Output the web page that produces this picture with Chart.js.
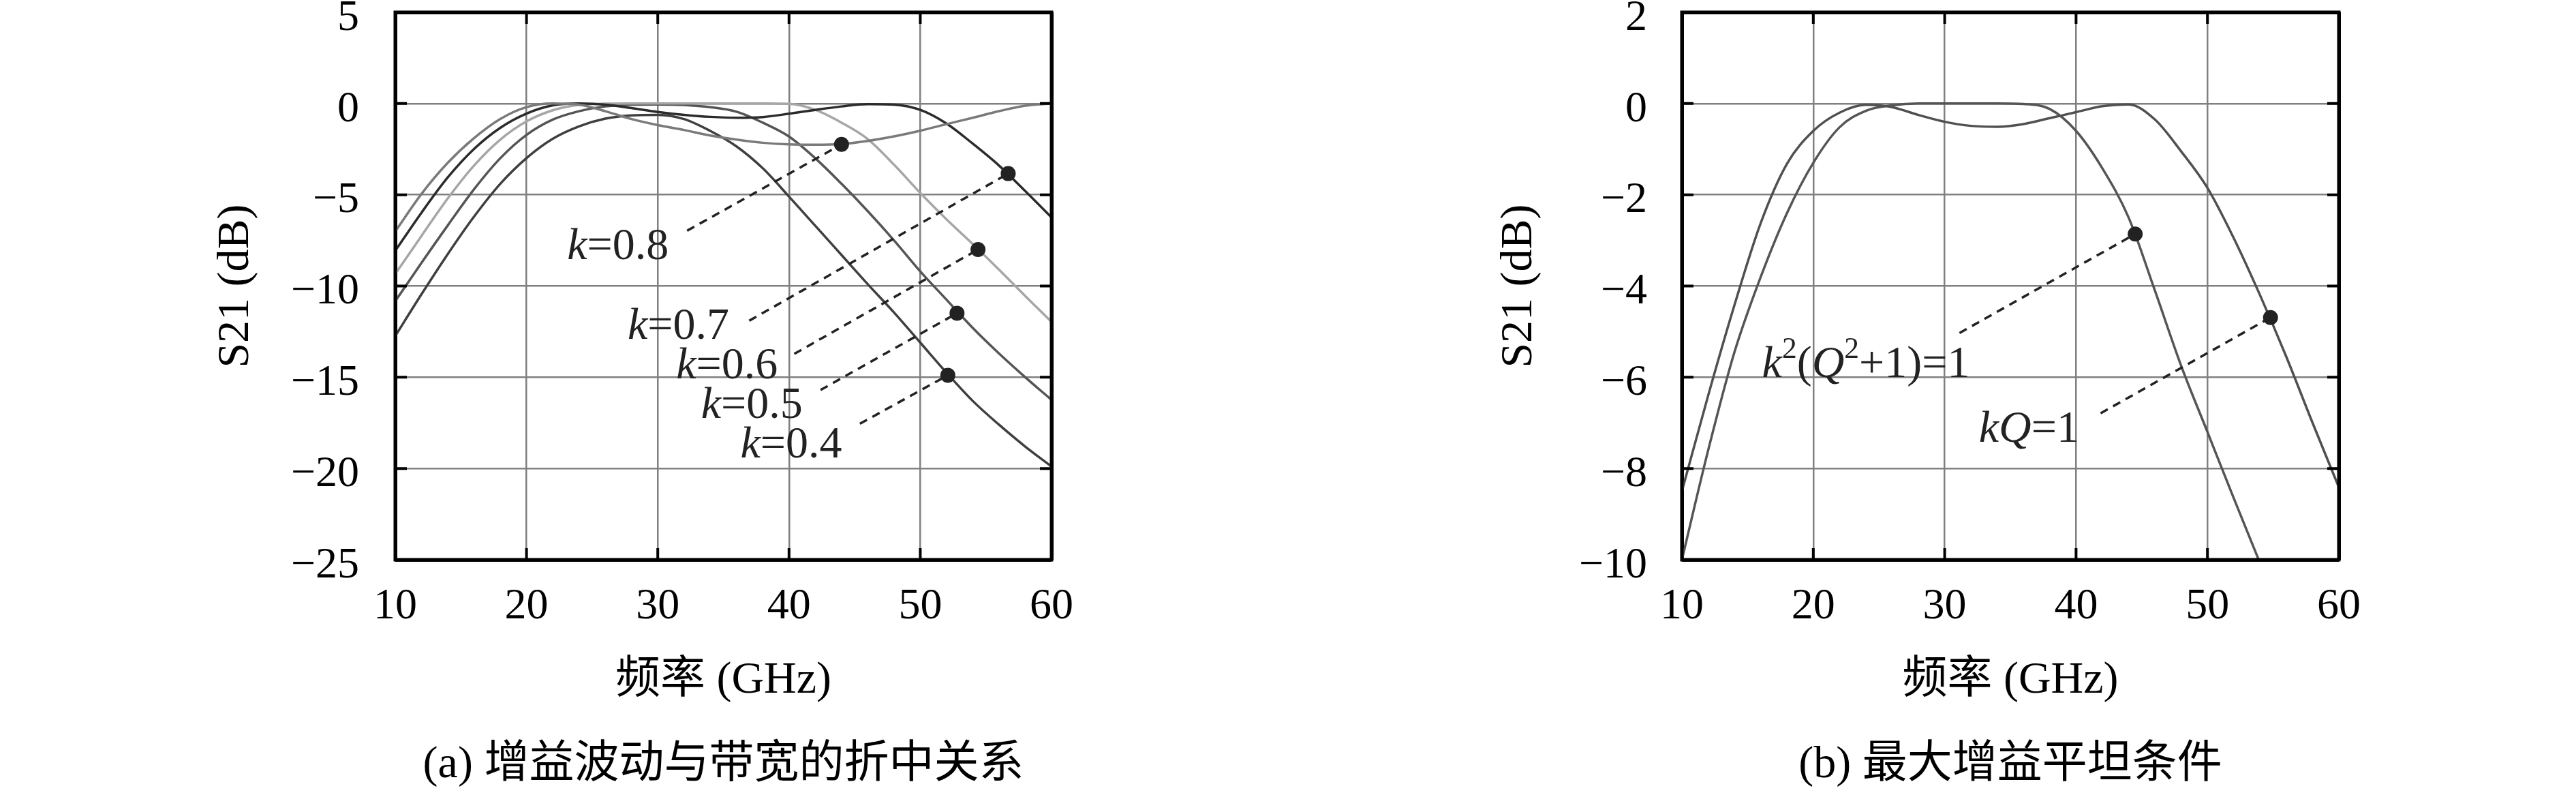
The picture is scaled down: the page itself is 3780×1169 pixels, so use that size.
<!DOCTYPE html>
<html>
<head>
<meta charset="utf-8">
<script src="https://cdn.jsdelivr.net/npm/chart.js@4.4.1/dist/chart.umd.min.js"></script>
<style>
  html, body { margin: 0; padding: 0; background: #fff; }
  body { width: 3780px; height: 1169px; position: relative; overflow: hidden; }
  canvas { position: absolute; top: 0; }
  #chartA { left: 0; }
  #chartB { left: 1890px; }
</style>
</head>
<body>
<canvas id="chartA" width="1890" height="1169"></canvas>
<canvas id="chartB" width="1890" height="1169"></canvas>
<script>
// frequency points (GHz), shared by both panels
const freq = [10, 12, 14, 16, 18, 20, 22, 24, 26, 28, 30, 32, 34, 36, 38, 40, 42, 44, 46, 48, 50, 52, 54, 56, 58, 60];

// panel (a): S21 (dB) for each coupling coefficient k
const s21k08 = [-7.01, -4.95, -3.25, -1.9, -0.85, -0.2, 0, -0.06, -0.42, -0.85, -1.18, -1.45, -1.75, -1.98, -2.15, -2.24, -2.26, -2.22, -2.05, -1.8, -1.49, -1.13, -0.78, -0.42, -0.12, 0];
const s21k07 = [-8.07, -5.98, -4.05, -2.49, -1.33, -0.55, -0.1, 0, -0.06, -0.25, -0.46, -0.62, -0.73, -0.78, -0.74, -0.56, -0.35, -0.16, -0.03, -0.06, -0.35, -1.1, -2.2, -3.4, -4.8, -6.24];
const s21k06 = [-9.34, -7.25, -5.2, -3.4, -1.98, -0.98, -0.37, -0.07, -0.01, 0, 0, 0, 0, 0, 0, -0.02, -0.35, -1.05, -1.95, -3.35, -4.9, -6.35, -7.7, -9.1, -10.55, -11.96];
const s21k05 = [-10.83, -8.73, -6.68, -4.7, -3.0, -1.72, -0.88, -0.42, -0.16, -0.06, -0.05, -0.08, -0.2, -0.45, -1.05, -1.81, -3.0, -4.4, -5.9, -7.5, -9.2, -10.75, -12.3, -13.7, -15.0, -16.24];
const s21k04 = [-12.74, -10.45, -8.25, -6.2, -4.4, -2.99, -1.93, -1.25, -0.83, -0.65, -0.62, -0.85, -1.5, -2.35, -3.55, -5.1, -6.7, -8.3, -9.9, -11.45, -13.1, -14.75, -16.3, -17.6, -18.8, -19.89];
const kValues = [0.8, 0.7, 0.6, 0.5, 0.4];
const curveColorsA = ['#7a7a7a', '#2b2b2b', '#a6a6a6', '#555555', '#3f3f3f'];

// panel (a): dots, label anchors and leader ends
const dotFreqA = [44.0, 56.7, 54.4, 52.8, 52.1];
const dotDbA = [-2.24, -3.84, -8.0, -11.49, -14.89];
const labelFreqA = [23.1, 27.7, 31.4, 33.3, 36.3];
const labelDbA = [-7.72, -12.1, -14.26, -16.4, -18.6];
const leaderFreqA = [32.24, 36.97, 40.4, 42.4, 45.4];
const leaderDbA = [-6.97, -11.9, -13.72, -15.7, -17.55];

// panel (b): kQ=1 (ripple) and k^2(Q^2+1)=1 (flat)
const s21Ripple = [-8.5, -6.4, -4.42, -2.62, -1.32, -0.6, -0.2, -0.03, -0.08, -0.25, -0.4, -0.49, -0.51, -0.45, -0.32, -0.19, -0.06, -0.02, -0.35, -1.05, -1.85, -2.95, -4.2, -5.55, -7.0, -8.41];
const freqFlat = [10, 12, 14, 16, 18, 20, 22, 24, 26, 28, 30, 32, 34, 36, 38, 40, 42, 44, 46, 48, 50, 52, 54];
const s21Flat = [-10, -7.6, -5.45, -3.8, -2.4, -1.3, -0.52, -0.16, -0.04, 0, 0, 0, 0, -0.01, -0.12, -0.6, -1.42, -2.5, -4.1, -5.75, -7.2, -8.65, -10.07];
const dotFreqB = [44.5, 54.8];
const dotDbB = [-2.86, -4.69];
const labelFreqB = [16.1, 32.6];
const labelDbB = [-5.67, -7.09];
const leaderFreqB = [31.13, 41.87];
const leaderDbB = [-5.03, -6.79];

// ticks
const xTicks = [10, 20, 30, 40, 50, 60];
const yTicksA = [-25, -20, -15, -10, -5, 0, 5];
const yTicksB = [-10, -8, -6, -4, -2, 0, 2];

const serif = "'Liberation Serif', 'Noto Sans CJK SC', serif";
Chart.defaults.font.family = serif;
Chart.defaults.color = '#000';

function minus(v) {
    return v < 0 ? '\u2212' + Math.abs(v) : String(v);
}

function pts(xs, ys) {
    return ys.map((y, i) => ({ x: xs[i], y: y }));
}

// small inward ticks on the frame, and the k= labels
const decorPlugin = {
    id: 'decor',
    afterDatasetsDraw(chart, args, opts) {
        const { ctx, chartArea: a, scales: { x, y } } = chart;
        ctx.save();
        ctx.strokeStyle = '#000';
        ctx.lineWidth = 4;
        ctx.beginPath();
        x.ticks.forEach(t => {
            if (t.value === x.min || t.value === x.max) return;
            const px = x.getPixelForValue(t.value);
            ctx.moveTo(px, a.top); ctx.lineTo(px, a.top + 17);
            ctx.moveTo(px, a.bottom); ctx.lineTo(px, a.bottom - 17);
        });
        y.ticks.forEach(t => {
            if (t.value === y.min || t.value === y.max) return;
            const py = y.getPixelForValue(t.value);
            ctx.moveTo(a.left, py); ctx.lineTo(a.left + 17, py);
            ctx.moveTo(a.right, py); ctx.lineTo(a.right - 17, py);
        });
        ctx.stroke();

        // frame
        ctx.lineWidth = 5;
        ctx.strokeRect(a.left, a.top, a.right - a.left, a.bottom - a.top);

        ctx.fillStyle = '#222';
        ctx.textBaseline = 'alphabetic';
        ctx.textAlign = 'left';
        const size = 66;
        (opts.labels || []).forEach(l => {
            let px = x.getPixelForValue(l.x);
            const base = y.getPixelForValue(l.y) + size * 0.33;
            l.runs.forEach(r => {
                const fs = r.sup ? size * 0.66 : size;
                ctx.font = (r.it ? 'italic ' : '') + fs + 'px ' + serif;
                ctx.fillText(r.t, px, r.sup ? base - size * 0.42 : base);
                px += ctx.measureText(r.t).width;
            });
        });
        ctx.restore();
    }
};

function buildChart(id, cfg) {
    const edge = (c, lo, hi) => c.tick && (c.tick.value === lo || c.tick.value === hi);
    return new Chart(document.getElementById(id), {
        type: 'line',
        data: { datasets: cfg.datasets },
        plugins: [decorPlugin],
        options: {
            responsive: false,
            animation: false,
            devicePixelRatio: 1,
            layout: { padding: { left: 0, right: cfg.padRight, top: 18, bottom: 6.8 } },
            elements: { point: { radius: 0 } },
            plugins: {
                legend: { display: false },
                tooltip: { enabled: false },
                title: {
                    display: true,
                    position: 'bottom',
                    fullSize: false,
                    text: cfg.caption,
                    color: '#000',
                    font: { size: 66, weight: 'normal' },
                    padding: { top: 32, bottom: 0 }
                },
                decor: { labels: cfg.labels }
            },
            scales: {
                x: {
                    type: 'linear',
                    min: 10,
                    max: 60,
                    afterBuildTicks: s => { s.ticks = xTicks.map(v => ({ value: v })); },
                    afterFit: s => { s.height = 230; s.paddingLeft = 0; s.paddingRight = 0; },
                    ticks: { padding: 31, font: { size: 64 }, maxRotation: 0, autoSkip: false, color: '#000' },
                    grid: {
                        drawTicks: false,
                        color: c => edge(c, 10, 60) ? '#000' : '#808080',
                        lineWidth: c => edge(c, 10, 60) ? 5 : 2.5
                    },
                    border: { display: false },
                    title: { display: true, text: '频率 (GHz)', color: '#000', font: { size: 66 }, padding: { top: 0, bottom: 13 } }
                },
                y: {
                    type: 'linear',
                    min: cfg.yTicks[0],
                    max: cfg.yTicks[cfg.yTicks.length - 1],
                    afterBuildTicks: s => { s.ticks = cfg.yTicks.map(v => ({ value: v })); },
                    afterFit: s => { s.width = cfg.yWidth; s.paddingTop = 0; s.paddingBottom = 0; },
                    ticks: { padding: cfg.tickPad, labelOffset: 9, font: { size: 64 }, color: '#000', callback: v => minus(v) },
                    grid: {
                        drawTicks: false,
                        color: c => edge(c, cfg.yTicks[0], cfg.yTicks[cfg.yTicks.length - 1]) ? '#000' : '#808080',
                        lineWidth: c => edge(c, cfg.yTicks[0], cfg.yTicks[cfg.yTicks.length - 1]) ? 5 : 2.5
                    },
                    border: { display: false },
                    title: { display: true, text: 'S21 (dB)', color: '#000', font: { size: 66 }, padding: { top: cfg.titlePad, bottom: 0 } }
                }
            }
        }
    });
}

function curve(data, color) {
    return { data: data, borderColor: color, borderWidth: 3.5, cubicInterpolationMode: 'monotone', pointRadius: 0, fill: false, order: 2 };
}
function leader(x0, y0, x1, y1) {
    return { data: [{ x: x0, y: y0 }, { x: x1, y: y1 }], borderColor: '#222', borderWidth: 3.5, borderDash: [12, 9], pointRadius: 0, tension: 0, order: 1 };
}
function dots(xs, ys) {
    return { data: pts(xs, ys), showLine: false, pointRadius: 11, pointBackgroundColor: '#222', pointBorderWidth: 0, order: 0 };
}

// panel (a)
const seriesA = [s21k08, s21k07, s21k06, s21k05, s21k04];
const datasetsA = seriesA.map((s, i) => curve(pts(freq, s), curveColorsA[i]));
kValues.forEach((k, i) => datasetsA.push(leader(leaderFreqA[i], leaderDbA[i], dotFreqA[i], dotDbA[i])));
datasetsA.push(dots(dotFreqA, dotDbA));

buildChart('chartA', {
    datasets: datasetsA,
    padRight: 347,
    yWidth: 580,
    tickPad: 53,
    titlePad: 307,
    yTicks: yTicksA,
    caption: '(a) 增益波动与带宽的折中关系',
    labels: kValues.map((k, i) => ({ x: labelFreqA[i], y: labelDbA[i], runs: [{ t: 'k', it: true }, { t: '=' + k }] }))
});

// panel (b)
const datasetsB = [
    curve(pts(freq, s21Ripple), '#505050'),
    curve(pts(freqFlat, s21Flat), '#555555'),
    leader(leaderFreqB[0], leaderDbB[0], dotFreqB[0], dotDbB[0]),
    leader(leaderFreqB[1], leaderDbB[1], dotFreqB[1], dotDbB[1]),
    dots(dotFreqB, dotDbB)
];

buildChart('chartB', {
    datasets: datasetsB,
    padRight: 348,
    yWidth: 578,
    tickPad: 51,
    titlePad: 300,
    yTicks: yTicksB,
    caption: '(b) 最大增益平坦条件',
    labels: [
        { x: labelFreqB[0], y: labelDbB[0], runs: [{ t: 'k', it: true }, { t: '2', sup: true }, { t: '(' }, { t: 'Q', it: true }, { t: '2', sup: true }, { t: '+1)=1' }] },
        { x: labelFreqB[1], y: labelDbB[1], runs: [{ t: 'k', it: true }, { t: 'Q', it: true }, { t: '=1' }] }
    ]
});
</script>
</body>
</html>
